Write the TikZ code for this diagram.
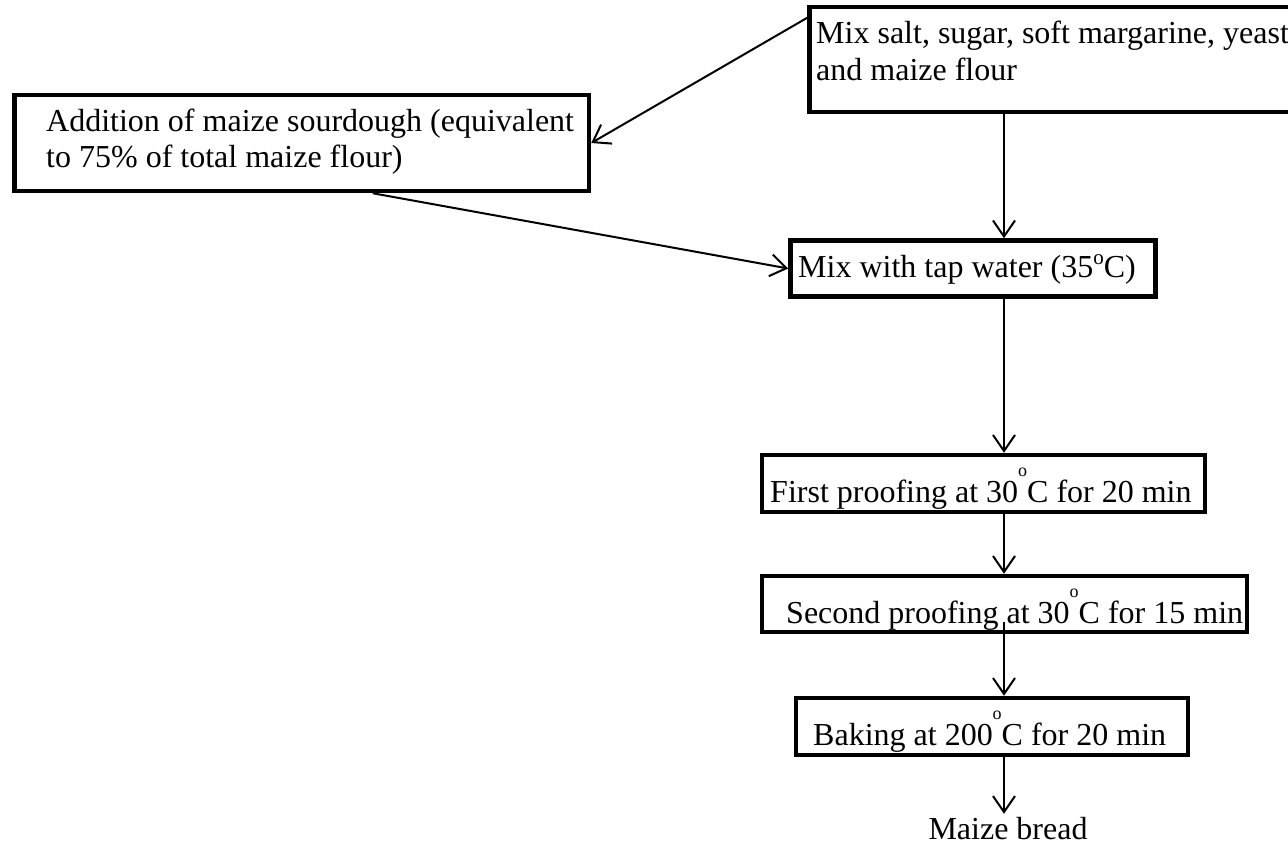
\documentclass[tikz,border=0pt]{standalone}
\usepackage{fontspec}
\setmainfont{Liberation Serif}
\usetikzlibrary{arrows.meta}
\newcommand\hideg{\raisebox{26pt}{\fontsize{18}{18}\selectfont o}}
\newcommand\lodeg{\raisebox{13pt}{\fontsize{21}{21}\selectfont o}}
\tikzset{
  box/.style={draw, line width=4.5pt, rectangle, inner sep=0pt},
  txt/.style={inner sep=0pt, anchor=base west, font=\fontsize{32}{37}\selectfont},
  conn/.style={line width=2pt, -{Straight Barb[length=16pt,width=22pt,line width=2pt]}},
}
\begin{document}
\begin{tikzpicture}[x=1pt,y=-1pt]
\useasboundingbox[fill=white] (0,0) rectangle (1288,846);
% boxes
\node[box, minimum width=490.5pt, minimum height=105pt] (top) at (1054.75,59.5) {};
\node[box, minimum width=574.5pt, minimum height=96pt] (add) at (301.75,143) {};
\node[box, minimum width=365pt, minimum height=56pt] (water) at (973,268.5) {};
\node[box, minimum width=443pt, minimum height=57pt] (first) at (983.5,483.5) {};
\node[box, minimum width=485pt, minimum height=56pt] (second) at (1004.5,604) {};
\node[box, minimum width=392pt, minimum height=57pt] (bake) at (992,726.5) {};
% texts
\node[txt] (top1) at (816,43) {Mix salt, sugar, soft margarine, yeast};
\node[txt] (top2) at (816,80) {and maize flour};
\node[txt] (add1) at (46,131) {Addition of maize sourdough (equivalent};
\node[txt] (add2) at (46,167) {to 75\% of total maize flour)};
\node[txt] (water1) at (798,277) {Mix with tap water (35\lodeg C)};
\node[txt] (first1) at (770,502) {First proofing at 30\hideg C for 20 min};
\node[txt] (second1) at (786,623) {Second proofing at 30\hideg C for 15 min};
\node[txt] (bake1) at (813,745) {Baking at 200\hideg C for 20 min};
\node[txt, anchor=base, outer sep=3pt] (bread) at (1008,839) {Maize bread};
% connectors
\coordinate (col) at (1004,0);
\draw[conn] ([yshift=-13pt]top.north west) -- (add.east);
\draw[conn] (top.south -| col) -- (water.north -| col);
\draw[conn] ([xshift=71pt]add.south) -- (water.west);
\draw[conn] (water.south -| col) -- (first.north -| col);
\draw[conn] (first.south -| col) -- (second.north -| col);
\draw[conn] ([yshift=12pt]second.south -| col) -- (bake.north -| col);
\draw[conn] (bake.south -| col) -- (bread.north -| col);
\end{tikzpicture}
\end{document}
